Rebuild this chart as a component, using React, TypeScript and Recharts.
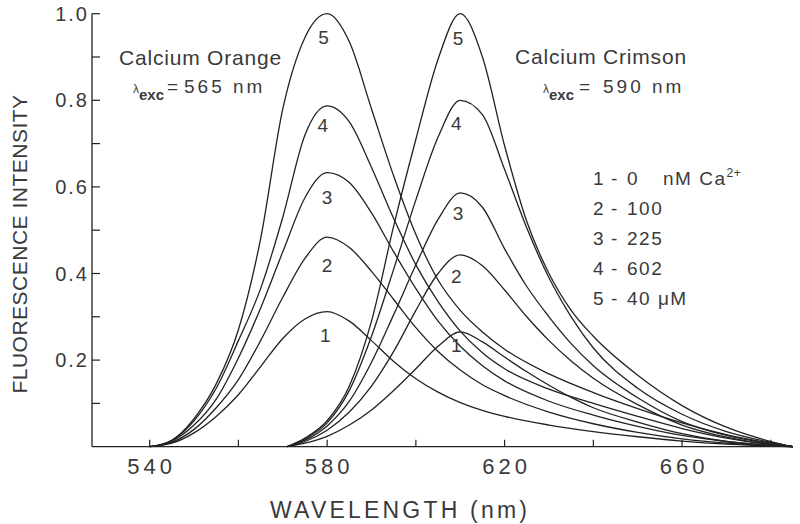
import { LineChart, Line, XAxis, YAxis, ReferenceDot } from 'recharts';

// wavelengths (nm) sampled for each dye
const orangeNm = [540, 545, 550, 555, 560, 565, 570, 575, 580, 585, 590, 595, 600, 605, 610, 615, 620, 630, 640, 650, 660, 670, 680, 685];
const crimsonNm = [571, 575, 580, 585, 590, 595, 600, 605, 610, 615, 620, 625, 630, 635, 640, 650, 660, 670, 680, 685];

// Calcium Orange, curves 1..5
const orange1 = [0, 0.008, 0.032, 0.07, 0.12, 0.185, 0.25, 0.295, 0.312, 0.29, 0.245, 0.197, 0.157, 0.126, 0.102, 0.084, 0.07, 0.05, 0.035, 0.023, 0.013, 0.006, 0.002, 0];
const orange2 = [0, 0.01, 0.04, 0.09, 0.155, 0.245, 0.345, 0.435, 0.484, 0.46, 0.405, 0.34, 0.275, 0.22, 0.177, 0.143, 0.118, 0.08, 0.053, 0.033, 0.018, 0.008, 0.002, 0];
const orange3 = [0, 0.013, 0.05, 0.11, 0.205, 0.32, 0.45, 0.575, 0.633, 0.61, 0.54, 0.45, 0.365, 0.29, 0.232, 0.187, 0.152, 0.105, 0.073, 0.047, 0.026, 0.012, 0.003, 0];
const orange4 = [0, 0.015, 0.06, 0.135, 0.245, 0.365, 0.53, 0.72, 0.787, 0.75, 0.645, 0.527, 0.42, 0.335, 0.267, 0.217, 0.18, 0.133, 0.1, 0.07, 0.042, 0.02, 0.005, 0];
const orange5 = [0, 0.015, 0.065, 0.145, 0.27, 0.48, 0.78, 0.945, 1.0, 0.935, 0.78, 0.625, 0.49, 0.385, 0.315, 0.265, 0.225, 0.168, 0.125, 0.088, 0.055, 0.028, 0.008, 0];

// Calcium Crimson, curves 1..5
const crimson1 = [0, 0.008, 0.024, 0.05, 0.085, 0.13, 0.18, 0.232, 0.265, 0.242, 0.207, 0.173, 0.142, 0.114, 0.09, 0.057, 0.03, 0.012, 0.003, 0];
const crimson2 = [0, 0.012, 0.038, 0.08, 0.14, 0.22, 0.315, 0.4, 0.443, 0.418, 0.362, 0.3, 0.245, 0.198, 0.158, 0.097, 0.05, 0.022, 0.005, 0];
const crimson3 = [0, 0.015, 0.048, 0.105, 0.195, 0.305, 0.42, 0.525, 0.586, 0.553, 0.457, 0.37, 0.3, 0.238, 0.187, 0.113, 0.058, 0.026, 0.007, 0];
const crimson4 = [0, 0.018, 0.055, 0.13, 0.255, 0.41, 0.57, 0.715, 0.8, 0.767, 0.64, 0.505, 0.39, 0.3, 0.228, 0.135, 0.075, 0.035, 0.01, 0];
const crimson5 = [0, 0.02, 0.06, 0.14, 0.29, 0.51, 0.71, 0.895, 1.0, 0.9, 0.695, 0.52, 0.4, 0.315, 0.255, 0.165, 0.095, 0.045, 0.012, 0];

// curve number labels: [nm, intensity] just under each peak
const orangeLabelAt = [[579.6, 0.258], [580, 0.42], [580, 0.576], [579, 0.743], [579.2, 0.946]];
const crimsonLabelAt = [[609.1, 0.235], [609.1, 0.393], [609.5, 0.539], [609.1, 0.747], [609.5, 0.943]];

const xTicks = [540, 560, 580, 600, 620, 640, 660, 680];
const xLabelTicks = [540, 580, 620, 660];
const yTicks = [0.1, 0.2, 0.3, 0.4, 0.5, 0.6, 0.7, 0.8, 0.9, 1.0];
const yLabelTicks = [0.2, 0.4, 0.6, 0.8, 1.0];

const legendIds = ['1', '2', '3', '4', '5'];
const legendConc = ['0', '100', '225', '602', '40 \u03BCM'];

const FONT = '"Liberation Sans", Arial, sans-serif';
const INK = '#222';
const TXT = '#3a3a3a';

const toPoints = (nm: number[], vals: number[]) => nm.map((x, i) => ({ x, y: vals[i] }));

const orangeSeries = [orange1, orange2, orange3, orange4, orange5].map((v) => toPoints(orangeNm, v));
const crimsonSeries = [crimson1, crimson2, crimson3, crimson4, crimson5].map((v) => toPoints(crimsonNm, v));

const YTick = ({ x, y, payload }: any) => {
  const v = payload.value;
  return (
    <g>
      <line x1={x} x2={x + 8} y1={y} y2={y} stroke={INK} strokeWidth={1.2} />
      {yLabelTicks.includes(v) && (
        <text x={x - 3} y={y + 7} textAnchor="end" fontSize={20} letterSpacing={2} fill={TXT} fontFamily={FONT}>
          {v.toFixed(1)}
        </text>
      )}
    </g>
  );
};

const XTick = ({ x, y, payload }: any) => {
  const v = payload.value;
  return (
    <g>
      <line x1={x} x2={x} y1={y} y2={y - 7} stroke={INK} strokeWidth={1.2} />
      {xLabelTicks.includes(v) && (
        <text x={x + 2} y={y + 27} textAnchor="middle" fontSize={22} letterSpacing={4} fill={TXT} fontFamily={FONT}>
          {v}
        </text>
      )}
    </g>
  );
};

export default function App() {
  return (
    <div style={{ position: 'absolute', left: 0, top: 0, width: 800, height: 524, background: '#fff' }}>
      <LineChart
        width={800}
        height={524}
        margin={{ top: 13.7, right: 7, bottom: 37.3, left: 32 }}
        style={{ fontFamily: FONT }}
      >
        <XAxis
          type="number"
          dataKey="x"
          domain={[527, 685]}
          ticks={xTicks}
          height={40}
          tickSize={0}
          tickMargin={0}
          tickLine={false}
          tick={<XTick />}
          axisLine={{ stroke: INK, strokeWidth: 1.3 }}
          allowDataOverflow
        />
        <YAxis
          type="number"
          domain={[0, 1]}
          ticks={yTicks}
          width={60}
          tickSize={0}
          tickMargin={0}
          tickLine={false}
          tick={<YTick />}
          axisLine={{ stroke: INK, strokeWidth: 1.3 }}
        />
        {orangeSeries.map((d, i) => (
          <Line
            key={'o' + i}
            data={d}
            dataKey="y"
            type="monotone"
            stroke={INK}
            strokeWidth={1.3}
            dot={false}
            isAnimationActive={false}
          />
        ))}
        {crimsonSeries.map((d, i) => (
          <Line
            key={'c' + i}
            data={d}
            dataKey="y"
            type="monotone"
            stroke={INK}
            strokeWidth={1.3}
            dot={false}
            isAnimationActive={false}
          />
        ))}
        {[...orangeLabelAt, ...crimsonLabelAt].map(([lx, ly], i) => (
          <ReferenceDot
            key={'l' + i}
            x={lx}
            y={ly}
            r={0}
            fill="none"
            stroke="none"
            label={{ value: String((i % 5) + 1), position: 'center', fontSize: 19, fill: TXT, fontFamily: FONT }}
          />
        ))}
      </LineChart>
      <svg
        width={800}
        height={524}
        style={{ position: 'absolute', left: 0, top: 0, pointerEvents: 'none' }}
        fontFamily={FONT}
        fill={TXT}
      >
        <text transform="translate(27,244) rotate(-90)" textAnchor="middle" fontSize={21} letterSpacing={0.5}>
          FLUORESCENCE INTENSITY
        </text>
        <text x={270} y={518} fontSize={23} letterSpacing={3.2}>
          WAVELENGTH (nm)
        </text>

        <text x={119} y={65} fontSize={21} letterSpacing={0.8}>Calcium Orange</text>
        <text y={93}>
          <tspan x={133} fontSize={12}>{'\u03BB'}</tspan>
          <tspan dy={7} fontSize={15} fontWeight="bold">exc</tspan>
          <tspan x={167} dy={-7} fontSize={19}>=</tspan>
          <tspan x={184} fontSize={19} letterSpacing={3}>565 nm</tspan>
        </text>

        <text x={515} y={64} fontSize={21} letterSpacing={0.8}>Calcium Crimson</text>
        <text y={93}>
          <tspan x={543} fontSize={12}>{'\u03BB'}</tspan>
          <tspan dy={7} fontSize={15} fontWeight="bold">exc</tspan>
          <tspan x={579} dy={-7} fontSize={19}>=</tspan>
          <tspan x={603} fontSize={19} letterSpacing={3}>590 nm</tspan>
        </text>

        {legendIds.map((id, i) => (
          <text key={id} y={185 + i * 30} fontSize={19} letterSpacing={1.5}>
            <tspan x={593}>{id}</tspan>
            <tspan x={611}>-</tspan>
            <tspan x={627}>{legendConc[i]}</tspan>
            {i === 0 && <tspan x={663}>nM Ca</tspan>}
            {i === 0 && (
              <tspan dy={-8} fontSize={12} letterSpacing={0.5}>2+</tspan>
            )}
          </text>
        ))}
      </svg>
    </div>
  );
}
